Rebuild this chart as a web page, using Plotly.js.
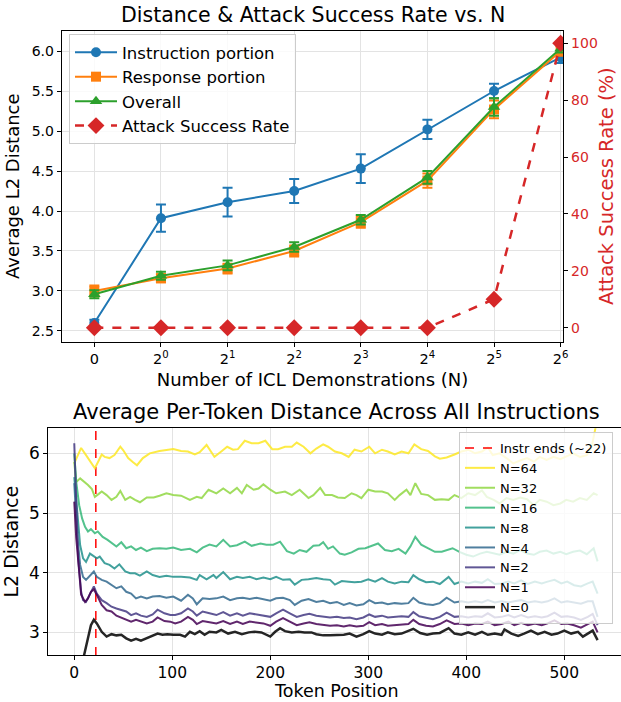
<!DOCTYPE html>
<html>
<head>
<meta charset="utf-8">
<script src="https://cdn.plot.ly/plotly-3.0.1.min.js"></script>
<style>html,body{margin:0;padding:0;background:#fff;}#chart{width:621px;height:702px;}</style>
</head>
<body>
<div id="chart"></div>
<script>
// ---------- Top chart data ----------
const categories = ['0','2^0','2^1','2^2','2^3','2^4','2^5','2^6'];
const instrVals = [2.60, 3.91, 4.11, 4.25, 4.53, 5.02, 5.50, 5.92];
const instrErr  = [0.04, 0.17, 0.18, 0.15, 0.18, 0.12, 0.09, 0.07];
const respVals  = [3.00, 3.16, 3.28, 3.50, 3.86, 4.38, 5.27, 6.00];
const respErr   = [0.07, 0.05, 0.06, 0.07, 0.07, 0.09, 0.11, 0.06];
const overallVals = [2.96, 3.19, 3.32, 3.55, 3.89, 4.42, 5.30, 6.03];
const overallErr  = [0.05, 0.05, 0.06, 0.06, 0.06, 0.08, 0.11, 0.05];
const asrVals = [0, 0, 0, 0, 0, 0, 10, 100];

// ---------- Bottom chart data ----------
const instrEnd = 22;
const tok64 = [0,3,7,12,17,21,25,28,31,36,41,47,50,55,60,64,70,77,87,94,101,109,116,123,128,135,143,150,156,162,167,174,181,188,195,202,208,215,222,227,234,241,247,254,259,266,273,280,286,293,301,307,314,320,327,334,341,347,354,361,368,373,380,388,395,402,409,416,422,427,434,441,448,455,462,469,475,482,489,496,502,509,516,523,528,531,534];
const val64 = [5.83,5.95,6.09,5.97,5.85,5.75,5.88,5.98,5.94,5.92,5.97,6.11,6.05,5.92,5.85,5.80,5.92,6.00,6.04,6.06,6.07,6.04,6.03,5.98,6.02,6.14,5.94,6.03,6.11,6.06,6.07,6.21,6.17,6.17,6.21,6.07,6.07,6.11,6.11,6.18,6.11,6.00,6.08,6.15,6.11,6.03,6.00,5.94,6.06,6.03,6.11,6.00,6.06,6.03,5.98,6.03,6.00,6.15,6.07,6.04,5.95,5.91,5.93,5.98,6.03,6.06,6.00,6.03,6.10,5.97,6.00,5.92,5.83,5.88,5.92,5.86,5.94,5.89,5.94,5.90,5.94,6.00,5.94,5.97,6.11,6.39,6.60];
const tok32 = [0,2,6,9,14,18,21,25,28,33,38,43,47,52,57,62,67,74,81,87,94,101,109,118,125,130,137,145,152,159,166,171,176,183,188,193,200,206,215,222,230,239,244,251,256,263,269,276,283,288,293,300,307,314,320,327,332,339,343,348,354,361,368,375,382,388,395,402,409,416,421,428,434,441,448,455,462,469,475,482,489,496,502,509,516,523,530,534];
const val32 = [5.85,5.52,5.58,5.54,5.47,5.40,5.27,5.32,5.36,5.30,5.22,5.27,5.37,5.22,5.27,5.22,5.18,5.26,5.26,5.29,5.33,5.30,5.29,5.22,5.27,5.25,5.39,5.33,5.41,5.33,5.42,5.33,5.47,5.39,5.41,5.48,5.39,5.33,5.36,5.30,5.39,5.25,5.30,5.42,5.30,5.30,5.26,5.25,5.33,5.30,5.25,5.39,5.36,5.36,5.33,5.22,5.30,5.39,5.30,5.50,5.32,5.30,5.22,5.23,5.22,5.30,5.25,5.33,5.30,5.38,5.27,5.22,5.16,5.25,5.22,5.26,5.23,5.13,5.22,5.19,5.13,5.16,5.22,5.19,5.25,5.22,5.33,5.30];
const tok16 = [0,2,5,8,11,14,17,21,24,29,34,39,43,48,53,58,63,68,74,80,87,94,101,109,118,125,131,138,145,152,159,166,174,181,190,196,203,210,217,224,230,237,244,250,254,259,264,271,276,283,290,297,303,310,317,324,331,338,343,348,354,361,368,375,382,386,393,400,407,414,421,428,434,441,448,455,462,469,475,482,489,496,502,509,516,523,530,534];
const val16 = [6.00,5.52,5.13,4.91,4.77,4.69,4.73,4.66,4.69,4.60,4.55,4.49,4.44,4.51,4.41,4.44,4.38,4.42,4.36,4.40,4.41,4.40,4.42,4.38,4.40,4.34,4.42,4.47,4.44,4.55,4.44,4.46,4.52,4.45,4.49,4.47,4.47,4.52,4.36,4.32,4.38,4.35,4.45,4.46,4.51,4.40,4.44,4.32,4.30,4.34,4.40,4.41,4.45,4.49,4.38,4.36,4.40,4.32,4.44,4.60,4.47,4.41,4.35,4.35,4.38,4.41,4.35,4.30,4.27,4.32,4.35,4.32,4.30,4.35,4.32,4.38,4.32,4.30,4.35,4.37,4.32,4.35,4.31,4.35,4.37,4.31,4.41,4.19];
const tok8 = [0,3,6,9,12,16,20,23,26,31,36,41,46,52,57,62,67,74,80,87,94,101,109,118,125,128,135,142,145,152,159,166,172,179,186,193,200,206,213,220,225,232,239,247,254,261,266,273,280,286,293,300,307,314,320,327,334,341,346,352,359,366,373,382,388,395,402,409,416,422,429,436,443,449,456,463,470,477,483,490,497,503,510,517,524,529,534];
const val8 = [5.60,4.95,4.46,4.24,4.18,4.32,4.27,4.24,4.27,4.16,4.13,4.07,4.14,4.02,3.99,3.99,3.95,4.02,3.96,3.93,3.95,3.93,3.93,3.92,3.88,3.96,3.89,3.96,3.91,4.01,3.89,3.93,3.91,3.93,3.89,3.92,3.89,3.93,3.88,3.89,3.80,3.88,3.89,3.91,3.89,3.88,3.80,3.86,3.85,3.84,3.85,3.89,3.85,3.91,3.85,3.82,3.85,3.84,3.96,3.89,3.84,3.85,3.81,3.93,3.81,3.85,3.82,3.85,3.83,3.89,3.81,3.82,3.85,3.82,3.87,3.81,3.85,3.82,3.85,3.88,3.82,3.85,3.79,3.77,3.82,3.85,3.65];
const tok4 = [0,3,6,9,12,16,20,23,28,33,38,43,48,53,58,63,68,74,80,87,94,101,109,116,121,125,131,138,145,152,159,166,172,179,186,193,200,206,213,220,225,232,239,247,254,261,268,275,281,288,295,301,307,314,320,327,334,341,346,352,359,366,373,380,388,395,402,409,416,422,429,436,443,449,456,463,470,477,483,490,497,503,510,517,524,529,534];
const val4 = [5.50,4.63,4.13,3.93,3.88,3.96,4.02,3.93,3.88,3.85,3.80,3.74,3.77,3.68,3.65,3.57,3.60,3.57,3.60,3.61,3.58,3.60,3.53,3.63,3.57,3.47,3.57,3.56,3.57,3.60,3.54,3.57,3.58,3.56,3.58,3.56,3.53,3.57,3.58,3.54,3.46,3.53,3.56,3.51,3.53,3.49,3.51,3.46,3.49,3.45,3.47,3.54,3.49,3.50,3.47,3.49,3.48,3.49,3.58,3.50,3.47,3.46,3.49,3.58,3.50,3.52,3.50,3.52,3.50,3.54,3.50,3.52,3.50,3.52,3.54,3.50,3.52,3.50,3.52,3.57,3.50,3.52,3.50,3.48,3.52,3.52,3.26];
const tok2 = [0,2,4,7,9,12,16,20,23,28,33,38,43,48,53,58,63,68,74,80,85,92,98,103,109,116,121,125,131,138,145,152,159,166,172,179,186,193,200,206,213,220,227,234,240,247,254,261,268,275,281,288,295,301,307,314,320,327,334,341,346,352,359,366,373,380,388,395,402,409,416,422,429,436,443,449,456,463,470,477,483,490,497,503,510,517,524,529,534];
const val2 = [6.17,5.08,4.24,3.68,3.54,3.51,3.63,3.77,3.65,3.54,3.49,3.43,3.40,3.38,3.35,3.29,3.32,3.28,3.26,3.30,3.38,3.32,3.29,3.29,3.32,3.40,3.35,3.28,3.35,3.32,3.29,3.34,3.28,3.32,3.28,3.32,3.30,3.29,3.26,3.32,3.38,3.32,3.26,3.29,3.31,3.28,3.26,3.25,3.26,3.24,3.25,3.22,3.25,3.30,3.26,3.28,3.25,3.26,3.27,3.26,3.34,3.27,3.25,3.22,3.26,3.33,3.26,3.27,3.25,3.27,3.26,3.32,3.25,3.26,3.29,3.25,3.29,3.25,3.27,3.25,3.27,3.33,3.26,3.27,3.25,3.21,3.26,3.31,3.12];
const tok1 = [0,2,5,7,11,14,17,20,23,28,33,38,43,48,53,58,63,68,74,80,85,92,98,103,109,116,121,125,131,138,145,152,159,166,172,179,186,193,200,206,213,220,227,234,240,247,254,261,268,275,281,288,295,301,307,314,320,327,334,341,346,352,359,366,373,380,388,395,402,409,416,422,429,436,443,449,456,463,470,477,483,490,497,503,510,517,524,529,534];
const val1 = [5.19,4.58,4.02,3.63,3.51,3.57,3.68,3.72,3.63,3.46,3.37,3.35,3.28,3.25,3.22,3.18,3.21,3.18,3.15,3.18,3.25,3.19,3.18,3.15,3.18,3.26,3.21,3.14,3.19,3.17,3.15,3.19,3.14,3.18,3.14,3.18,3.17,3.15,3.11,3.18,3.24,3.18,3.12,3.15,3.17,3.14,3.12,3.11,3.12,3.10,3.12,3.10,3.11,3.17,3.12,3.14,3.11,3.12,3.13,3.14,3.21,3.14,3.11,3.10,3.14,3.20,3.14,3.15,3.12,3.15,3.14,3.18,3.12,3.14,3.18,3.12,3.16,3.12,3.15,3.12,3.15,3.20,3.14,3.15,3.12,3.08,3.14,3.18,3.00];
const tok0 = [0,5,10,14,17,20,23,28,33,38,43,48,53,58,63,68,74,80,85,90,95,101,108,113,118,123,128,133,138,145,150,157,164,171,178,184,191,200,205,210,215,222,229,235,242,247,254,261,268,275,281,288,295,301,307,314,320,327,334,341,346,353,360,366,373,382,388,395,402,409,416,422,429,436,439,446,453,459,466,473,480,487,493,500,507,514,519,524,529,534];
const val0 = [1.90,2.25,2.60,2.90,3.12,3.21,3.15,3.01,2.93,2.97,2.95,2.96,2.90,2.86,2.89,2.86,2.90,2.95,2.98,2.96,2.97,2.96,2.96,2.93,3.01,2.97,3.02,2.96,3.01,3.00,3.04,2.98,3.01,2.97,3.00,3.01,3.00,2.93,3.01,3.07,3.02,3.00,3.01,3.00,3.00,2.97,2.95,2.95,2.95,2.96,2.98,2.93,2.97,3.02,2.98,2.96,3.00,2.97,2.98,3.02,3.06,2.99,2.96,2.98,2.99,3.07,2.98,2.96,3.00,2.96,3.01,2.96,2.98,2.96,3.05,2.98,2.94,2.98,3.03,2.97,3.01,2.96,2.98,3.03,2.98,3.01,2.93,2.98,3.03,2.87];

const seriesNames = ['N=64','N=32','N=16','N=8','N=4','N=2','N=1','N=0'];
const seriesTok = [tok64, tok32, tok16, tok8, tok4, tok2, tok1, tok0];
const seriesVal = [val64, val32, val16, val8, val4, val2, val1, val0];
const seriesColors = ['#fde725','#90d743','#35b779','#21918c','#31688e','#443983','#440154','#000000'];

const FONT = 'DejaVu Sans, Arial, sans-serif';
const xIdx = categories.map((_, i) => i);
const tickText = categories.map(c => c.replace(/\^(\d+)/, '<sup>$1</sup>'));

const C_BLUE = '#1f77b4', C_ORANGE = '#ff7f0e', C_GREEN = '#2ca02c', C_RED = '#d62728';

function errTrace(name, vals, errs, color, symbol, size, group) {
  return {
    x: xIdx, y: vals, name: name, type: 'scatter', mode: 'lines+markers',
    xaxis: 'x', yaxis: 'y', legend: 'legend', legendgroup: group,
    line: {color: color, width: 2},
    marker: {color: color, symbol: symbol, size: size},
    error_y: {type: 'data', array: errs, visible: true, color: color, thickness: 2, width: 5}
  };
}

const traces = [
  errTrace('Instruction portion', instrVals, instrErr, C_BLUE, 'circle', 10, 'g1'),
  errTrace('Response portion', respVals, respErr, C_ORANGE, 'square', 10, 'g2'),
  errTrace('Overall', overallVals, overallErr, C_GREEN, 'triangle-up', 11, 'g3'),
  {
    x: xIdx, y: asrVals, name: 'Attack Success Rate', type: 'scatter', mode: 'lines+markers',
    xaxis: 'x', yaxis: 'y2', legend: 'legend', legendgroup: 'g4',
    line: {color: C_RED, width: 2.5, dash: 'dash'},
    marker: {color: C_RED, symbol: 'diamond', size: 13}
  },
  {
    x: [instrEnd, instrEnd], y: [2.0, 7.0], name: 'Instr ends (~22)', type: 'scatter', mode: 'lines',
    xaxis: 'x2', yaxis: 'y3', legend: 'legend2',
    line: {color: 'red', width: 1.5, dash: 'dash'}, hoverinfo: 'skip'
  }
];
seriesNames.forEach((nm, i) => {
  traces.push({
    x: seriesTok[i], y: seriesVal[i], name: nm, type: 'scatter', mode: 'lines',
    xaxis: 'x2', yaxis: 'y3', legend: 'legend2', opacity: 0.85,
    line: {color: seriesColors[i], width: nm === 'N=0' ? 2.5 : 2}
  });
});

const H = 702, W = 621;
const gridC = '#e3e3e3';
const axBase = {
  showline: true, linecolor: '#000', linewidth: 1, ticks: 'outside', ticklen: 4, tickcolor: '#000',
  showgrid: true, gridcolor: gridC, gridwidth: 1, zeroline: false
};

const layout = {
  width: W, height: H, margin: {l: 0, r: 0, t: 0, b: 0},
  paper_bgcolor: '#fff', plot_bgcolor: '#fff',
  font: {family: FONT, color: '#000'},
  showlegend: true,
  xaxis: Object.assign({}, axBase, {
    domain: [61.7 / W, 563.3 / W], anchor: 'y', range: [-0.49, 7.04], mirror: true,
    tickvals: xIdx, ticktext: tickText, tickfont: {size: 14.5},
    title: {text: 'Number of ICL Demonstrations (N)', font: {size: 18}, standoff: 7}
  }),
  yaxis: Object.assign({}, axBase, {
    domain: [1 - 341.7 / H, 1 - 30.7 / H], anchor: 'x', range: [2.366, 6.254], mirror: true,
    dtick: 0.5, tickformat: '.1f', tickfont: {size: 14},
    title: {text: 'Average L2 Distance', font: {size: 18}, standoff: 7}
  }),
  yaxis2: {
    overlaying: 'y', side: 'right', anchor: 'x', range: [-4.92, 104.4],
    showline: true, linecolor: '#000', ticks: 'outside', ticklen: 4, tickcolor: '#000',
    showgrid: false, zeroline: false, dtick: 20,
    tickfont: {size: 14, color: C_RED},
    title: {text: 'Attack Success Rate (%)', font: {size: 19.5, color: C_RED}, standoff: 2}
  },
  xaxis2: Object.assign({}, axBase, {
    domain: [48.3 / W, 1], anchor: 'y3', range: [-26.5, 557.9], mirror: true,
    dtick: 100, tickfont: {size: 15.5}, ticklen: 3.5
  }),
  yaxis3: Object.assign({}, axBase, {
    domain: [1 - 655 / H, 1 - 428.3 / H], anchor: 'x2', range: [2.621, 6.419], mirror: true,
    dtick: 1, tickfont: {size: 17},
    title: {text: 'L2 Distance', font: {size: 19}, standoff: 7}
  }),
  legend: {
    x: 69 / W, y: 1 - 34 / H, xanchor: 'left', yanchor: 'top',
    bgcolor: 'rgba(255,255,255,0.8)', bordercolor: '#cccccc', borderwidth: 1,
    font: {size: 16.5}, tracegroupgap: 0, itemwidth: 42
  },
  legend2: {
    x: 459 / W, y: 1 - 432 / H, xanchor: 'left', yanchor: 'top',
    bgcolor: 'rgba(255,255,255,0.8)', bordercolor: '#cccccc', borderwidth: 1,
    font: {size: 13}, traceorder: 'normal'
  },
  annotations: [
    {text: 'Distance & Attack Success Rate vs. N', xref: 'paper', yref: 'paper',
     x: 312.5 / W, y: 1 - 15 / H, xanchor: 'center', yanchor: 'middle', showarrow: false,
     font: {size: 20.5, family: FONT}},
    {text: 'Average Per-Token Distance Across All Instructions', xref: 'paper', yref: 'paper',
     x: 336 / W, y: 1 - 412 / H, xanchor: 'center', yanchor: 'middle', showarrow: false,
     font: {size: 21, family: FONT}},
    {text: 'Token Position', xref: 'paper', yref: 'paper', borderpad: 0,
     x: 336 / W, y: 0, xanchor: 'center', yanchor: 'bottom', showarrow: false,
     font: {size: 17.5, family: FONT}}
  ]
};

Plotly.newPlot('chart', traces, layout, {displayModeBar: false, staticPlot: true});
</script>
</body>
</html>
